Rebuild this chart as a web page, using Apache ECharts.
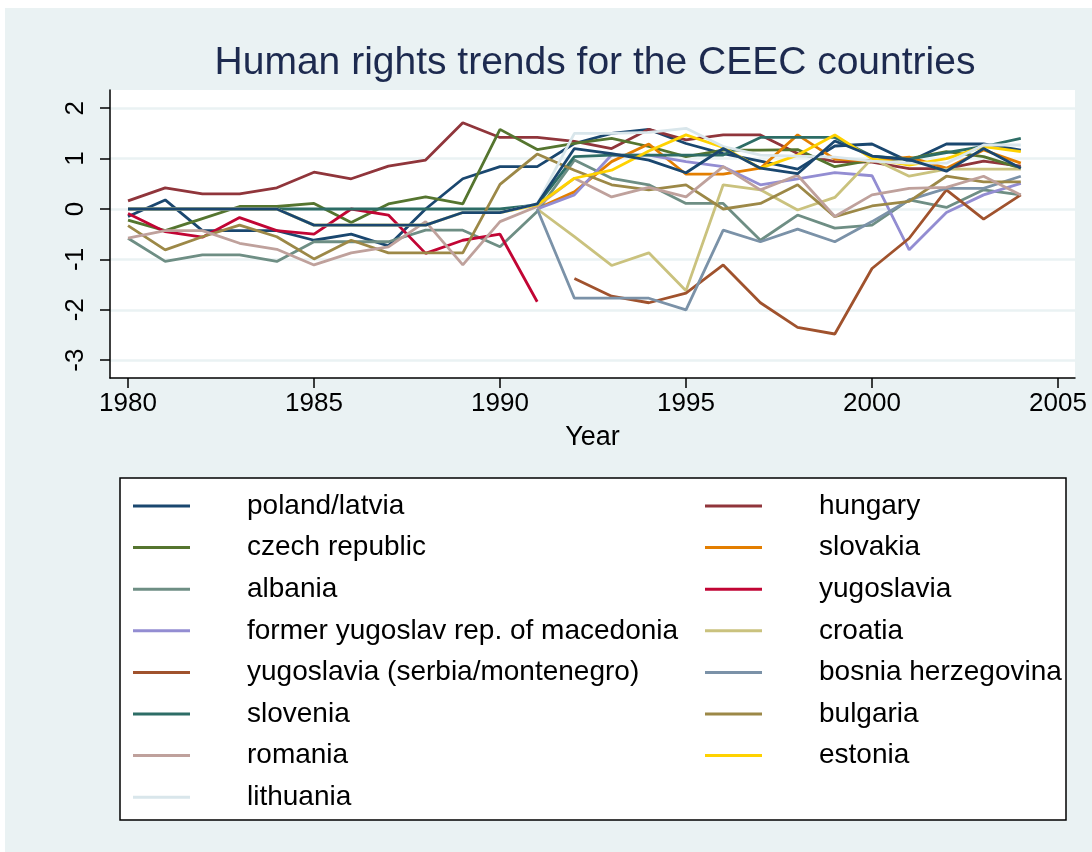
<!DOCTYPE html>
<html>
<head>
<meta charset="utf-8">
<script src="https://cdn.jsdelivr.net/npm/echarts@6/dist/echarts.min.js"></script>
<style>
    html, body { margin: 0; padding: 0; background: #ffffff; }
    #chart {
        position: absolute;
        left: 5px;
        top: 8px;
        width: 1087px;
        height: 844px;
        background: #eaf2f3;
    }
</style>
</head>
<body>
<div id="chart"></div>
<script>
const years = [1980, 1981, 1982, 1983, 1984, 1985, 1986, 1987, 1988, 1989, 1990, 1991, 1992,
    1993, 1994, 1995, 1996, 1997, 1998, 1999, 2000, 2001, 2002, 2003, 2004];
const xTicks = [1980, 1985, 1990, 1995, 2000, 2005];
const yTicks = [-3, -2, -1, 0, 1, 2];

const poland = [-0.15, 0.18, -0.43, -0.43, -0.43, -0.62, -0.50, -0.73, 0.00, 0.60, 0.84, 0.84, 1.30,
    1.50, 1.58, 1.30, 1.10, 0.95, 0.79, 1.25, 1.29, 0.94, 1.29, 1.29, 1.17];
const hungary = [0.16, 0.42, 0.30, 0.30, 0.42, 0.73, 0.60, 0.85, 0.97, 1.71, 1.42, 1.42, 1.34,
    1.20, 1.58, 1.37, 1.47, 1.47, 1.10, 0.94, 0.93, 0.80, 0.80, 0.95, 0.85];
const czech = [-0.22, -0.43, -0.19, 0.05, 0.05, 0.11, -0.27, 0.10, 0.24, 0.10, 1.58, 1.18, 1.30,
    1.40, 1.24, 1.04, 1.17, 1.17, 1.18, 0.84, 0.97, 1.00, 1.14, 1.04, 0.81];
const slovakia = [null, null, null, null, null, null, null, null, null, null, null, 0.01, 0.34,
    0.94, 1.29, 0.69, 0.69, 0.81, 1.47, 0.99, 0.95, 1.03, 0.81, 1.17, 0.91];
const albania = [-0.58, -1.04, -0.91, -0.91, -1.04, -0.65, -0.65, -0.65, -0.42, -0.42, -0.75, -0.05, 0.97,
    0.61, 0.48, 0.11, 0.11, -0.62, -0.12, -0.38, -0.32, 0.18, 0.03, 0.38, 0.28];
const yugoslavia = [-0.09, -0.45, -0.56, -0.17, -0.43, -0.50, 0.00, -0.12, -0.88, -0.62, -0.50, -1.84, null,
    null, null, null, null, null, null, null, null, null, null, null, null];
const macedonia = [null, null, null, null, null, null, null, null, null, null, null, 0.00, 0.28,
    1.07, 1.07, 0.94, 0.84, 0.48, 0.60, 0.72, 0.66, -0.81, -0.07, 0.28, 0.51];
const croatia = [null, null, null, null, null, null, null, null, null, null, null, 0.00, -0.55,
    -1.12, -0.87, -1.62, 0.48, 0.38, -0.02, 0.23, 1.00, 0.65, 0.79, 0.79, 0.79];
const serbia = [null, null, null, null, null, null, null, null, null, null, null, null, -1.38,
    -1.73, -1.86, -1.67, -1.11, -1.86, -2.35, -2.48, -1.18, -0.58, 0.38, -0.20, 0.28];
const bosnia = [null, null, null, null, null, null, null, null, null, null, null, 0.00, -1.77,
    -1.77, -1.77, -2.00, -0.42, -0.65, -0.40, -0.65, -0.25, 0.18, 0.41, 0.41, 0.65];
const slovenia = [0, 0, 0, 0, 0, 0, 0, 0, 0, 0, 0, 0.08, 1.04,
    1.07, 1.07, 1.07, 1.07, 1.42, 1.42, 1.42, 1.05, 0.99, 1.12, 1.24, 1.40];
const bulgaria = [-0.33, -0.81, -0.55, -0.32, -0.55, -0.99, -0.62, -0.87, -0.87, -0.87, 0.49, 1.09, 0.77,
    0.48, 0.38, 0.48, 0.00, 0.11, 0.48, -0.15, 0.06, 0.15, 0.65, 0.54, 0.54];
const romania = [-0.58, -0.43, -0.43, -0.68, -0.80, -1.11, -0.87, -0.75, -0.25, -1.11, -0.25, 0.05, 0.61,
    0.24, 0.43, 0.24, 0.84, 0.38, 0.67, -0.15, 0.28, 0.41, 0.43, 0.65, 0.28];
const estonia = [0, 0, 0, 0, 0, -0.32, -0.32, -0.32, -0.32, -0.07, -0.07, 0.08, 0.61,
    0.77, 1.15, 1.47, 1.22, 0.81, 1.07, 1.47, 1.00, 0.87, 1.00, 1.24, 1.14];
const lithuania = [0, 0, 0, 0, 0, -0.32, -0.32, -0.32, -0.32, -0.07, -0.07, 0.10, 1.50,
    1.50, 1.52, 1.60, 1.24, 1.07, 1.05, 1.03, 0.95, 0.91, 0.91, 1.27, 1.27];
const latvia = [0, 0, 0, 0, 0, -0.32, -0.32, -0.32, -0.32, -0.07, -0.07, 0.10, 1.20,
    1.10, 0.97, 0.72, 1.20, 0.81, 0.70, 1.35, 1.05, 0.98, 0.75, 1.20, 0.81];

// stata s2color order, latvia wraps round to navy again
const seriesList = [
    { name: 'poland/latvia', values: poland, color: '#1a476f' },
    { name: 'hungary', values: hungary, color: '#90353b' },
    { name: 'czech republic', values: czech, color: '#55752f' },
    { name: 'slovakia', values: slovakia, color: '#e37e00' },
    { name: 'albania', values: albania, color: '#6e8e84' },
    { name: 'yugoslavia', values: yugoslavia, color: '#c10534' },
    { name: 'former yugoslav rep. of macedonia', values: macedonia, color: '#938dd2' },
    { name: 'croatia', values: croatia, color: '#cac27e' },
    { name: 'yugoslavia (serbia/montenegro)', values: serbia, color: '#a0522d' },
    { name: 'bosnia herzegovina', values: bosnia, color: '#7b92a8' },
    { name: 'slovenia', values: slovenia, color: '#2d6d66' },
    { name: 'bulgaria', values: bulgaria, color: '#9c8847' },
    { name: 'romania', values: romania, color: '#bfa19c' },
    { name: 'estonia', values: estonia, color: '#ffd200' },
    { name: 'lithuania', values: lithuania, color: '#d9e6eb' },
    { name: 'latvia', values: latvia, color: '#1a476f' },
];

const legendLeft = ['poland/latvia', 'czech republic', 'albania', 'former yugoslav rep. of macedonia',
    'yugoslavia (serbia/montenegro)', 'slovenia', 'romania', 'lithuania'];
const legendRight = ['hungary', 'slovakia', 'yugoslavia', 'croatia', 'bosnia herzegovina',
    'bulgaria', 'estonia'];

const font = '"Liberation Sans", Arial, sans-serif';

const chart = echarts.init(document.getElementById('chart'));

const legendBase = {
    orient: 'vertical',
    top: 483,
    padding: 0,
    itemWidth: 57,
    itemHeight: 3,
    itemGap: 11.6,
    icon: 'rect',
    selectedMode: false,
    textStyle: {
        fontFamily: font,
        fontSize: 28,
        color: '#000',
        lineHeight: 30,
        padding: [0, 0, 0, 52],
    },
};

const option = {
    animation: false,
    title: {
        text: 'Human rights trends for the CEEC countries',
        left: 585,
        top: 31,
        textAlign: 'center',
        textStyle: {
            fontFamily: font,
            fontSize: 39,
            fontWeight: 'normal',
            color: '#1d2a4f',
        },
    },
    graphic: [
        {
            type: 'rect',
            shape: { x: 115, y: 470, width: 946, height: 342 },
            style: { fill: '#ffffff', stroke: '#000', lineWidth: 1.5 },
        },
    ],
    legend: [
        Object.assign({}, legendBase, { left: 128, data: legendLeft }),
        Object.assign({}, legendBase, { left: 700, data: legendRight }),
    ],
    grid: {
        left: 105,
        right: 17,
        top: 82,
        bottom: 474,
        show: true,
        backgroundColor: '#ffffff',
        borderWidth: 0,
    },
    xAxis: {
        type: 'value',
        min: 1979.516,
        max: 2005.457,
        name: 'Year',
        nameLocation: 'middle',
        nameGap: 46,
        nameTextStyle: { fontFamily: font, fontSize: 27, color: '#000' },
        axisLine: { onZero: false, lineStyle: { color: '#000', width: 1.5 } },
        axisTick: { length: 10, customValues: xTicks, lineStyle: { color: '#000', width: 1.5 } },
        axisLabel: {
            customValues: xTicks,
            formatter: v => String(v),
            margin: 13,
            fontFamily: font,
            fontSize: 26,
            color: '#000',
        },
        splitLine: { show: false },
    },
    yAxis: {
        type: 'value',
        min: -3.353,
        max: 2.361,
        axisLine: { show: true, lineStyle: { color: '#000', width: 1.5 } },
        axisTick: { show: true, length: 10, customValues: yTicks, lineStyle: { color: '#000', width: 1.5 } },
        axisLabel: {
            customValues: yTicks,
            rotate: 90,
            margin: 21,
            fontFamily: font,
            fontSize: 26,
            color: '#000',
        },
        splitLine: { show: true, lineStyle: { color: '#eaf2f3', width: 2.5 } },
    },
    series: seriesList.map(s => ({
        name: s.name,
        type: 'line',
        data: years.map((yr, i) => [yr, s.values[i]]),
        showSymbol: false,
        connectNulls: false,
        color: s.color,
        lineStyle: { color: s.color, width: 2.8 },
        emphasis: { disabled: true },
    })),
};

chart.setOption(option);
</script>
</body>
</html>
